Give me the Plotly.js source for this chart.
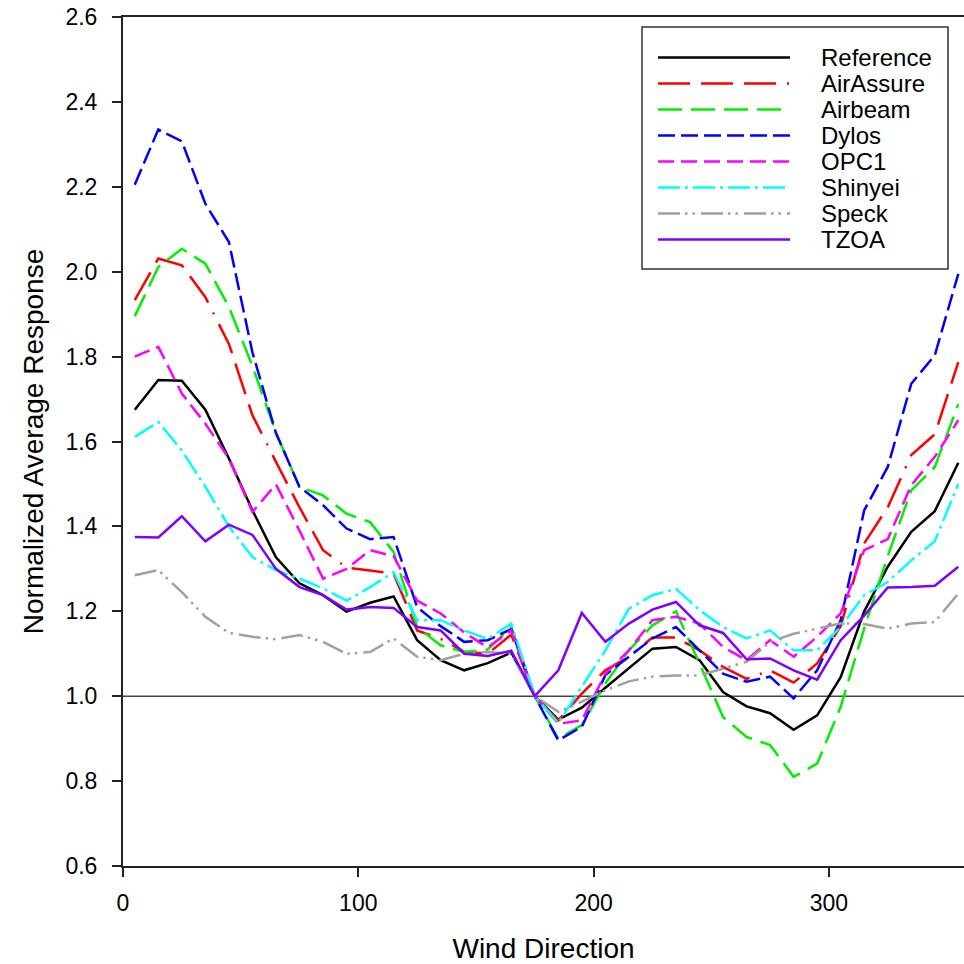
<!DOCTYPE html>
<html>
<head>
<meta charset="utf-8">
<script src="https://cdn.plot.ly/plotly-3.0.1.min.js"></script>
<style>html,body{margin:0;padding:0;background:#fff;}#chart{width:964px;height:964px;}</style>
</head>
<body>
<div id="chart"></div>
<script>
// ---- data ----
const windDirection = [5,15,25,35,45,55,65,75,85,95,105,115,125,135,145,155,165,175,185,195,205,215,225,235,245,255,265,275,285,295,305,315,325,335,345,355];

const seriesNames = ["Reference","AirAssure","Airbeam","Dylos","OPC1","Shinyei","Speck","TZOA"];

const reference = [1.675,1.745,1.743,1.675,1.56,1.438,1.327,1.266,1.238,1.199,1.22,1.235,1.132,1.085,1.061,1.078,1.103,1.0,0.945,0.973,1.02,1.065,1.112,1.116,1.085,1.01,0.976,0.96,0.921,0.955,1.045,1.2,1.305,1.387,1.436,1.55];
const airAssure = [1.933,2.031,2.015,1.94,1.83,1.662,1.552,1.445,1.344,1.303,1.296,1.289,1.155,1.135,1.105,1.1,1.145,1.0,0.943,1.006,1.061,1.093,1.138,1.138,1.108,1.069,1.041,1.061,1.032,1.077,1.165,1.36,1.445,1.568,1.617,1.787];
const airbeam = [1.895,2.011,2.054,2.019,1.917,1.778,1.62,1.493,1.473,1.43,1.41,1.34,1.163,1.12,1.104,1.11,1.163,1.0,0.9,0.932,1.03,1.108,1.167,1.2,1.077,0.951,0.904,0.885,0.81,0.841,0.975,1.16,1.33,1.485,1.54,1.688];
const dylos = [2.205,2.335,2.307,2.16,2.07,1.81,1.62,1.493,1.45,1.395,1.37,1.375,1.21,1.165,1.128,1.132,1.158,1.0,0.896,0.928,1.05,1.093,1.136,1.163,1.108,1.053,1.034,1.046,0.995,1.061,1.179,1.438,1.54,1.736,1.803,1.995];
const opc1 = [1.80,1.823,1.713,1.642,1.56,1.434,1.499,1.39,1.277,1.30,1.344,1.33,1.225,1.195,1.15,1.115,1.155,1.0,0.935,0.943,1.053,1.108,1.179,1.187,1.171,1.116,1.085,1.132,1.093,1.14,1.195,1.344,1.37,1.497,1.564,1.65];
const shinyei = [1.611,1.646,1.579,1.493,1.40,1.328,1.297,1.277,1.254,1.225,1.257,1.292,1.179,1.179,1.155,1.135,1.171,1.0,0.937,1.022,1.108,1.206,1.238,1.253,1.203,1.163,1.136,1.155,1.108,1.108,1.163,1.238,1.269,1.32,1.365,1.5];
const speck = [1.285,1.297,1.245,1.187,1.149,1.14,1.134,1.144,1.128,1.10,1.104,1.136,1.093,1.085,1.10,1.104,1.1,1.0,0.963,0.987,1.014,1.035,1.046,1.049,1.049,1.065,1.081,1.128,1.147,1.159,1.172,1.17,1.159,1.171,1.175,1.242];
const tzoa = [1.375,1.374,1.424,1.365,1.404,1.38,1.30,1.257,1.238,1.204,1.21,1.208,1.163,1.155,1.10,1.095,1.107,1.0,1.061,1.196,1.128,1.171,1.204,1.222,1.167,1.149,1.087,1.089,1.061,1.039,1.132,1.19,1.256,1.257,1.26,1.305];

const yTickValues = [0.6,0.8,1.0,1.2,1.4,1.6,1.8,2.0,2.2,2.4,2.6];
const xTickValues = [0,100,200,300];
const baselineValue = 1.0;

// ---- styles ----
const allSeries = [reference, airAssure, airbeam, dylos, opc1, shinyei, speck, tzoa];
const colors = ["#000000","#FF0000","#00F000","#0000FF","#FF00FF","#00FFFF","#A0A0A0","#8000FF"];
const dashes = [
  "solid",
  "32px,11px,32px,11px,32px,11px,2px,11px",
  "24px,9px",
  "17px,6px",
  "16px,7px",
  "22px,5px,3px,5px",
  "22px,5px,2.5px,5px,2.5px,6px",
  "solid"
];

const W = 964, H = 964;
const M = {l:123, r:0, t:17, b:98};
const plotW = W - M.l - M.r, plotH = H - M.t - M.b;
const px2x = p => (p - M.l) / plotW;
const px2y = p => (H - M.b - p) / plotH;
const FONT = "Liberation Sans, Arial, Helvetica, sans-serif";

const traces = allSeries.map((vals, i) => ({
  x: windDirection,
  y: vals,
  name: seriesNames[i],
  type: "scatter",
  mode: "lines",
  line: {color: colors[i], width: 2.5, dash: dashes[i]},
  showlegend: false,
  hoverinfo: "x+y+name"
}));

// custom legend (box + samples + labels)
const legBox = {x0: 642, x1: 948, y0: 27, y1: 269};
const shapes = [
  {type: "line", xref: "paper", yref: "y", x0: 0, x1: 1, y0: baselineValue, y1: baselineValue,
   line: {color: "#444", width: 1.5}, layer: "below"},
  {type: "rect", xref: "paper", yref: "paper",
   x0: px2x(legBox.x0), x1: px2x(legBox.x1), y0: px2y(legBox.y1), y1: px2y(legBox.y0),
   line: {color: "#333", width: 1.5}, fillcolor: "#fff", layer: "above"}
];
const annotations = [];
seriesNames.forEach((nm, i) => {
  const py = 57.5 + 26 * i;
  shapes.push({type: "line", xref: "paper", yref: "paper",
    x0: px2x(658), x1: px2x(790), y0: px2y(py), y1: px2y(py),
    line: {color: colors[i], width: 2.5, dash: dashes[i]}, layer: "above"});
  annotations.push({xref: "paper", yref: "paper", x: px2x(819), y: px2y(py),
    xanchor: "left", yanchor: "middle", text: nm, showarrow: false,
    font: {family: FONT, size: 24, color: "#000"}});
});

const layout = {
  width: W, height: H,
  margin: M,
  paper_bgcolor: "#fff", plot_bgcolor: "#fff",
  showlegend: false,
  font: {family: FONT, size: 23, color: "#000"},
  xaxis: {
    range: [0, plotW / 2.353],
    tickvals: xTickValues,
    ticktext: xTickValues.map(String),
    ticks: "outside", ticklen: 9, tickwidth: 2, tickcolor: "#222",
    showline: true, linecolor: "#222", linewidth: 2, mirror: true,
    showgrid: false, zeroline: false,
    ticklabelstandoff: 6,
    tickfont: {family: FONT, size: 23, color: "#000"},
    title: {text: "Wind Direction", font: {family: FONT, size: 28, color: "#000"}, standoff: 24},
    automargin: false
  },
  yaxis: {
    range: [0.6, 2.6],
    tickvals: yTickValues,
    ticktext: yTickValues.map(v => v.toFixed(1)),
    ticks: "outside", ticklen: 9, tickwidth: 2, tickcolor: "#222",
    showline: true, linecolor: "#222", linewidth: 2, mirror: false,
    showgrid: false, zeroline: false,
    ticklabelstandoff: 10,
    tickfont: {family: FONT, size: 23, color: "#000"},
    title: {text: "Normalized Average Response", font: {family: FONT, size: 28, color: "#000"}, standoff: 14},
    automargin: false
  },
  shapes: shapes,
  annotations: annotations
};

Plotly.newPlot("chart", traces, layout, {staticPlot: true, displayModeBar: false});
</script>
</body>
</html>
